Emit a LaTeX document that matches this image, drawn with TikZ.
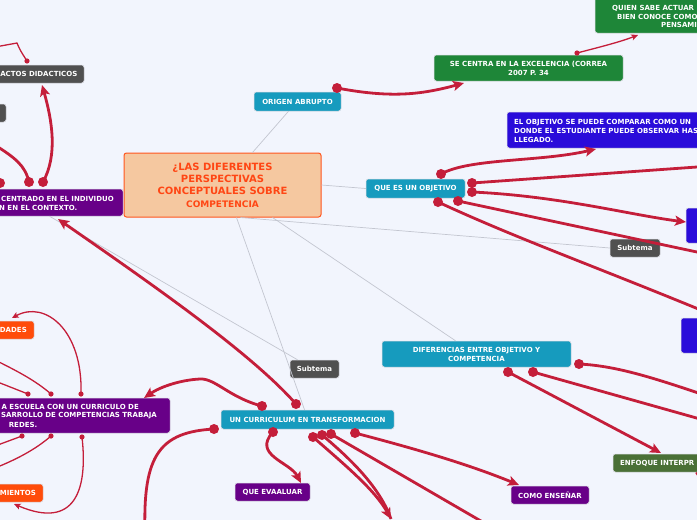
\documentclass[tikz,border=0pt]{standalone}
\usepackage{fontspec}
\setmainfont{DejaVu Sans}
\usetikzlibrary{arrows.meta,calc}
\definecolor{bg}{RGB}{242,245,253}
\definecolor{cteal}{RGB}{22,155,190}
\definecolor{cgreen}{RGB}{30,134,56}
\definecolor{colive}{RGB}{74,112,54}
\definecolor{cpurple}{RGB}{104,0,136}
\definecolor{cblue}{RGB}{42,12,218}
\definecolor{cgray}{RGB}{80,80,80}
\definecolor{corange}{RGB}{255,76,10}
\definecolor{cpeach}{RGB}{245,200,160}
\definecolor{cbord}{RGB}{255,85,30}
\definecolor{ctitle}{RGB}{255,70,20}
\definecolor{cred}{RGB}{196,30,58}
\definecolor{cline}{RGB}{195,198,208}
\definecolor{cedge}{RGB}{215,215,222}
\begin{document}
\begin{tikzpicture}[x=1pt,y=-1pt,
  box/.style={rounded corners=2.5pt, inner sep=0pt, text=white, draw=cedge, line width=0.5pt,
    font=\fontsize{7}{9}\selectfont\bfseries, align=center},
  lbl/.style={inner sep=0pt, text=white, font=\fontsize{7}{9}\selectfont\bfseries},
  subbox/.style={box, fill=cgray},
  tree/.style={draw=cline, line width=0.7pt},
  rel/.style={draw=cred, line width=2.8pt, -{Stealth[length=11pt,width=10pt,inset=2.5pt]}},
  relx/.style={draw=cred, line width=2.8pt},
  rthin/.style={draw=cred, line width=1.3pt, -{Stealth[length=6.5pt,width=6pt,inset=1.3pt]}},
  rthinx/.style={draw=cred, line width=1.3pt},
  bigdot/.style={fill=cred},
]
\fill[bg] (0,0) rectangle (697,520);
\useasboundingbox (0,0) rectangle (697,520);
\clip (0,0) rectangle (697,520);

% ---------- coordinates of relationship ends ----------
\coordinate (dor) at (337,88);   \coordinate (asc) at (464,83);
\coordinate (dsc) at (577,53);   \coordinate (aqu) at (638,35);
\coordinate (dq1) at (441,174);  \coordinate (aeo) at (596,149);
\coordinate (dq2) at (472,183);  \coordinate (x1) at (725,165);
\coordinate (dq3) at (472,192);  \coordinate (ab1) at (686,222);
\coordinate (dq4) at (458,201);  \coordinate (x2) at (725,258);
\coordinate (dq5) at (438,202);  \coordinate (x3) at (725,320);
\coordinate (dd1) at (508,372);  \coordinate (aenf) at (661,453);
\coordinate (dd2) at (533,372);  \coordinate (x5) at (725,426);
\coordinate (dd3) at (579,364);  \coordinate (x4) at (725,402);
\coordinate (x7) at (712,496);
\coordinate (dc1) at (262,406);  \coordinate (aesc) at (144,398);
\coordinate (dc2) at (296,404);  \coordinate (acen) at (58,219);
\coordinate (dc3) at (214,429);  \coordinate (x8) at (145,530);
\coordinate (dc4) at (273,432);  \coordinate (aqe) at (301,483);
\coordinate (dc5) at (313,437);  \coordinate (adn) at (391,519);
\coordinate (dc6) at (322,435);
\coordinate (dc7) at (331,434);  \coordinate (x9) at (505,535);
\coordinate (dc8) at (355,433);  \coordinate (ace) at (519,485);
\coordinate (dt1) at (43,182);   \coordinate (aac) at (42,85);
\coordinate (dt2) at (29,182);   \coordinate (x10) at (-5,145);
\coordinate (dt3) at (0,183);    \coordinate (x11) at (-10,170);
\coordinate (da) at (27,61);     \coordinate (x12) at (-5,47);
\coordinate (de1) at (81,394);   \coordinate (ada) at (12,318);
\coordinate (de2) at (51,394);   \coordinate (x13) at (-5,360);
\coordinate (de3) at (28,394);   \coordinate (x14) at (-5,381);
\coordinate (de4) at (22,436);   \coordinate (x15) at (-5,446);
\coordinate (de5) at (51,436);   \coordinate (x16) at (-5,468);
\coordinate (de6) at (82,437);   \coordinate (ami) at (14,504);

% ---------- nodes ----------
\node[box, fill=cpeach, draw=cbord, line width=1pt, minimum width=197pt, minimum height=64pt,
  text=ctitle, font=\fontsize{10}{12.4}\selectfont\bfseries] (central) at (222.5,185)
  {¿LAS DIFERENTES\\PERSPECTIVAS\\CONCEPTUALES SOBRE\\{\fontsize{9}{12}\selectfont COMPETENCIA}};
\node[box, fill=cteal, minimum width=87pt, minimum height=19pt] (origen) at (297.5,101.5) {ORIGEN ABRUPTO};
\node[box, fill=cteal, minimum width=99pt, minimum height=19pt] (queobj) at (415.5,188.5) {QUE ES UN OBJETIVO};
\node[box, fill=cgreen, minimum width=189pt, minimum height=26pt] (secentra) at (528.5,68) {SE CENTRA EN LA EXCELENCIA (CORREA\\2007 P. 34};
\node[box, fill=cgreen, minimum width=190pt, minimum height=40pt] (quien) at (690,13) {};
\node[lbl, anchor=west] (quienA) at (612,8) {QUIEN SABE ACTUAR};
\node[lbl, anchor=west] (quienB) at (617,16.5) {BIEN CONOCE COMO};
\node[lbl, anchor=west] (quienC) at (661,25) {PENSAMI};
\node[box, fill=cblue, minimum width=293pt, minimum height=36pt] (elobj) at (653.5,130) {};
\node[lbl, align=left, anchor=west] (elobjt) at (514,131)
  {EL OBJETIVO SE PUEDE COMPARAR COMO UN\\DONDE EL ESTUDIANTE PUEDE OBSERVAR HAS\\LLEGADO.};
\node[box, fill=cblue, minimum width=114pt, minimum height=35pt] (blueA) at (743,225.5) {};
\node[box, fill=cblue, minimum width=119pt, minimum height=35pt] (blueB) at (740.5,335.5) {};
\node[subbox, minimum width=50pt, minimum height=18pt] (subA) at (635,248) {Subtema};
\node[box, fill=cteal, minimum width=189pt, minimum height=26pt] (dif) at (476.5,354) {DIFERENCIAS ENTRE OBJETIVO Y\\COMPETENCIA};
\node[box, fill=colive, minimum width=167pt, minimum height=18pt] (enfoque) at (696.5,463) {};
\node[lbl, anchor=west] (enfoquet) at (620,463) {ENFOQUE INTERPR};
\node[box, fill=cpurple, minimum width=78pt, minimum height=18pt] (como) at (550,495) {COMO ENSEÑAR};
\node[box, fill=cpurple, minimum width=75pt, minimum height=18pt] (queeval) at (272.5,492) {QUE EVAALUAR};
\node[box, fill=cteal, minimum width=173pt, minimum height=19pt] (curr) at (307.5,419.5) {UN CURRICULUM EN TRANSFORMACION};
\node[subbox, minimum width=49pt, minimum height=18pt] (subB) at (314.5,369) {Subtema};
\node[box, fill=cpurple, minimum width=203pt, minimum height=27pt] (centrado) at (21.5,202.5) {};
\node[lbl, anchor=east] (centradoA) at (114,199) {CENTRADO EN EL INDIVIDUO};
\node[lbl, anchor=west] (centradoB) at (-1,208) {N EN EL CONTEXTO.};
\node[box, fill=cgray, minimum width=144pt, minimum height=18pt] (actos) at (12,74) {};
\node[lbl, anchor=east] (actost) at (77.5,74) {ACTOS DIDACTICOS};
\node[box, fill=cgray, minimum width=46pt, minimum height=18pt] (grayL) at (-17,113) {};
\node[box, fill=cpurple, minimum width=270pt, minimum height=35pt] (escuela) at (35,415.5) {};
\node[lbl, anchor=east] (escuelaA) at (139,407) {A ESCUELA CON UN CURRICULO DE};
\node[lbl, anchor=east] (escuelaB) at (157,416) {SARROLLO DE COMPETENCIAS TRABAJA};
\node[lbl, anchor=east] (escuelaC) at (37.5,425) {REDES.};
\node[box, fill=corange, minimum width=64pt, minimum height=18pt] (dades) at (2,330) {};
\node[lbl, anchor=east] (dadest) at (27,330) {DADES};
\node[box, fill=corange, minimum width=73pt, minimum height=18pt] (mientos) at (6.5,493) {};
\node[lbl, anchor=east] (mientost) at (36,493) {MIENTOS};

% ---------- tree lines ----------
\draw[tree] ($(central.north)+(30,0)$) -- ($(origen.south)+(-9,0)$);
\draw[tree] (central.east) -- (queobj.west);
\draw[tree] ($(central.south)+(18,0)$) -- (subA.west);
\draw[tree] ($(central.south)+(50,0)$) -- ($(dif.north)+(-21,0)$);
\draw[tree] ($(central.south)+(14,0)$) -- ($(curr.north)+(-3,0)$);
\draw[tree] ($(centrado.south)+(28,0)$) -- ($(subB.north)+(-17,0)$);

% ---------- relationships ----------
\draw[rel] (dor) .. controls (390,98) and (420,95) .. (asc);
\draw[rthin] (dsc) .. controls (600,47) and (620,42) .. (aqu);
\draw[rel] (dq1) .. controls (470,158) and (540,162) .. (aeo);
\draw[relx] (dq2) -- (x1);
\draw[rel] (dq3) .. controls (560,196) and (630,215) .. (ab1);
\draw[relx] (dq4) -- (x2);
\draw[relx] (dq5) .. controls (520,240) and (600,268) .. (x3);
\draw[relx] (dd3) .. controls (620,366) and (660,380) .. (x4);
\draw[relx] (dd2) -- (x5);
\draw[rel] (dd1) -- (aenf);
\draw[relx] (enfoque.south) -- (x7);
\draw[rel] (dc1) .. controls (230,398) and (215,378) .. (200,379) .. controls (180,380) and (160,387) .. (aesc);
\draw[rel] (dc2) .. controls (250,352) and (150,283) .. (acen);
\draw[relx] (dc3) .. controls (160,432) and (143,455) .. (x8);
\draw[rel] (dc4) .. controls (252,455) and (290,462) .. (aqe);
\draw[rel] (dc5) .. controls (345,465) and (375,490) .. (adn);
\draw[relx] (dc6) .. controls (352,460) and (380,488) .. (adn);
\draw[relx] (dc7) -- (x9);
\draw[rel] (dc8) .. controls (420,450) and (470,465) .. (ace);
\draw[rel] (dt1) .. controls (58,155) and (52,120) .. (aac);
\draw[relx] (dt2) .. controls (25,165) and (15,158) .. (x10);
\draw[relx] (dt3) -- (x11);
\draw[rthinx] (da) .. controls (20,50) .. (17,43) -- (x12);
\draw[rthin] (de1) .. controls (83,330) and (45,300) .. (ada);
\draw[rthinx] (de2) .. controls (35,380) and (15,370) .. (x13);
\draw[rthinx] (de3) -- (x14);
\draw[rthinx] (de4) -- (x15);
\draw[rthinx] (de5) .. controls (35,450) and (15,460) .. (x16);
\draw[rthin] (de6) .. controls (88,490) and (75,530) .. (ami);

% ---------- dots ----------
\foreach \p in {dor,dq1,dq2,dq3,dq4,dq5,dd1,dd2,dd3,dc1,dc2,dc3,dc4,dc5,dc6,dc7,dc8,dt1,dt2,dt3}
  \fill[bigdot] (\p) circle (5pt);
\foreach \p in {dsc,da,de1,de2,de3,de4,de5,de6}
  \fill[bigdot] (\p) circle (2.6pt);
\end{tikzpicture}
\end{document}
